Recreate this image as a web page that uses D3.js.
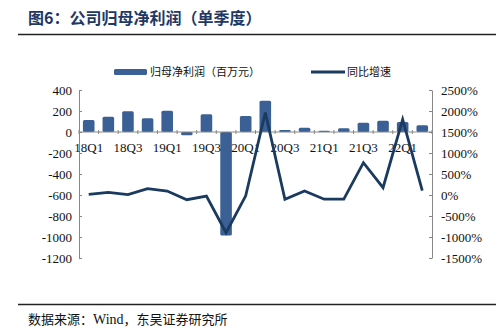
<!DOCTYPE html>
<html><head><meta charset="utf-8">
<script src="https://cdn.jsdelivr.net/npm/d3@7"></script>
<style>body{margin:0;background:#fff}svg{display:block}</style>
</head><body>
<script>
const categories = ["18Q1","18Q2","18Q3","18Q4","19Q1","19Q2","19Q3","19Q4","20Q1","20Q2","20Q3","20Q4","21Q1","21Q2","21Q3","21Q4","22Q1","22Q2"];
const profit = [114,146,197,130,203,-30,168,-985,152,298,20,41,13,35,89,108,95,64];
const growth = [17,64,8,150,95,-112,-24,-897,-20,1965,-102,95,-100,-100,769,175,1802,103];
const leftTicks = [400,200,0,-200,-400,-600,-800,-1000,-1200];
const rightTicks = [2500,2000,1500,1000,500,0,-500,-1000,-1500];
const xLabels = ["18Q1","18Q3","19Q1","19Q3","20Q1","20Q3","21Q1","21Q3","22Q1"];

const W=503,H=335;
const svg=d3.select("body").append("svg").attr("width",W).attr("height",H);
const serif="'Liberation Serif','Times New Roman',serif";
const cjk="'Noto Sans CJK SC',sans-serif";

svg.append("text").attr("x",28).attr("y",24).attr("font-family",cjk).attr("font-weight","bold")
  .attr("font-size",16).attr("fill","#1f3864").text("图6：公司归母净利润（单季度）");
svg.append("line").attr("x1",18).attr("x2",496).attr("y1",34.5).attr("y2",34.5).attr("stroke","#222").attr("stroke-width",1.5);
svg.append("line").attr("x1",18).attr("x2",496).attr("y1",304.5).attr("y2",304.5).attr("stroke","#222").attr("stroke-width",1.5);
const src=svg.append("text").attr("x",28).attr("y",324).attr("font-family",cjk).attr("font-size",13).attr("fill","#111");
src.append("tspan").text("数据来源：");
src.append("tspan").attr("font-family",serif).attr("font-size",14).text("Wind");
src.append("tspan").text("，东吴证券研究所");

const x=d3.scaleBand().domain(categories).range([79,432]).paddingInner(0.41).paddingOuter(0.2);
const yL=d3.scaleLinear().domain([-1200,400]).range([258,90]);
const yR=d3.scaleLinear().domain([-1500,2500]).range([258,90]);

// left axis
const axL=d3.axisLeft(yL).tickValues(leftTicks).tickSizeInner(-3).tickSizeOuter(0).tickPadding(7).tickFormat(d=>String(d));
const gL=svg.append("g").attr("transform","translate(79,0)").call(axL);
gL.select(".domain").attr("stroke","#888");
gL.selectAll(".tick line").attr("stroke","#888");
gL.selectAll("text").attr("font-family",serif).attr("font-size",13).attr("fill","#111");

const axR=d3.axisRight(yR).tickValues(rightTicks).tickSizeInner(-3).tickSizeOuter(0).tickPadding(9).tickFormat(d=>d+"%");
const gR=svg.append("g").attr("transform","translate(432,0)").call(axR);
gR.select(".domain").attr("stroke","#888");
gR.selectAll(".tick line").attr("stroke","#888");
gR.selectAll("text").attr("font-family",serif).attr("font-size",13).attr("fill","#111");

// bars
svg.append("g").selectAll("rect").data(categories).join("rect")
  .attr("x",d=>x(d)).attr("width",x.bandwidth())
  .attr("y",(d,i)=>yL(Math.max(0,profit[i])))
  .attr("height",(d,i)=>Math.abs(yL(profit[i])-yL(0)))
  .attr("rx",1.5).attr("fill","#3a6095");

// zero axis
const axX=d3.axisBottom(x).tickValues(xLabels).tickSize(0).tickPadding(11);
const gX=svg.append("g").attr("transform",`translate(0,${yL(0)})`).call(axX);
gX.select(".domain").attr("stroke","#888").attr("d","M79,0H432");
gX.selectAll("text").attr("font-family",serif).attr("font-size",13).attr("fill","#111");
// small category ticks
svg.append("g").selectAll("line").data(d3.range(categories.length+1)).join("line")
  .attr("x1",i=>79+i*(353/18)).attr("x2",i=>79+i*(353/18))
  .attr("y1",yL(0)-2).attr("y2",yL(0)+2).attr("stroke","#888");

// line
const line=d3.line().x((d,i)=>x(categories[i])+x.bandwidth()/2).y(d=>yR(d));
svg.append("path").datum(growth).attr("d",line).attr("fill","none")
  .attr("stroke","#1a3a60").attr("stroke-width",2.8).attr("stroke-linejoin","miter");

// legend
svg.append("rect").attr("x",114).attr("y",69).attr("width",33).attr("height",6).attr("rx",1.5).attr("fill","#3a6095");
svg.append("text").attr("x",150).attr("y",76).attr("font-family",cjk).attr("font-size",11).attr("fill","#111").text("归母净利润（百万元）");
svg.append("line").attr("x1",311).attr("x2",345).attr("y1",72).attr("y2",72).attr("stroke","#1a3a60").attr("stroke-width",2.8);
svg.append("text").attr("x",347).attr("y",76).attr("font-family",cjk).attr("font-size",11).attr("fill","#111").text("同比增速");
</script>
</body></html>
